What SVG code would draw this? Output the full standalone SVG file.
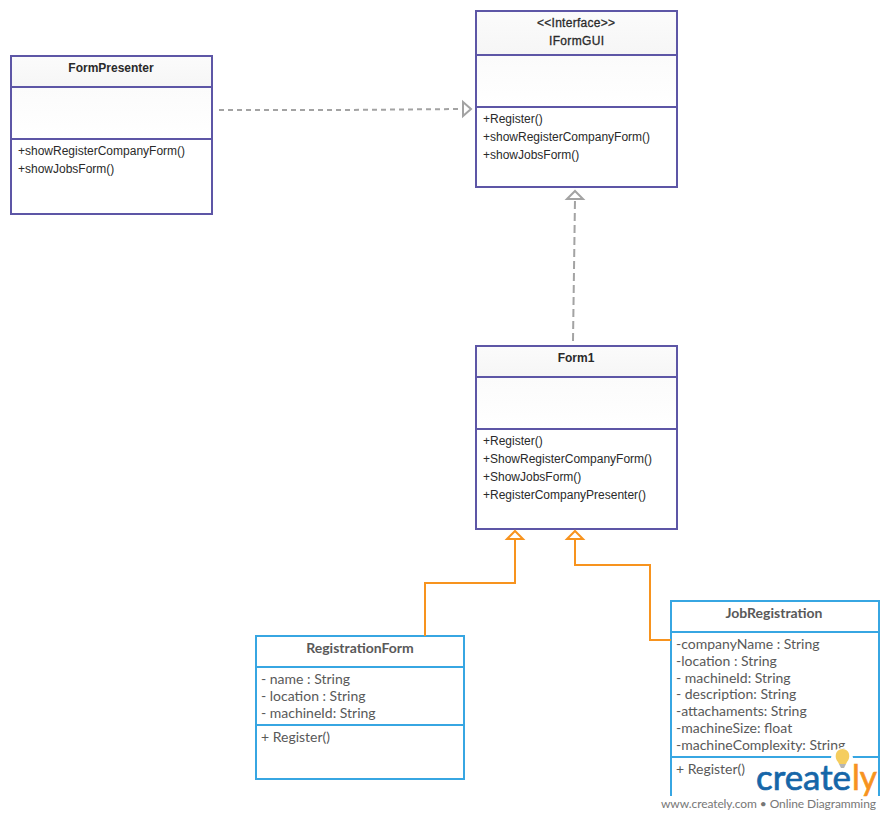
<svg xmlns="http://www.w3.org/2000/svg" width="890" height="820" viewBox="0 0 890 820">
<defs>
<linearGradient id="hdr" x1="0" y1="0" x2="0" y2="1"><stop offset="0" stop-color="#fbfbfb"/><stop offset="1" stop-color="#f6f6f6"/></linearGradient>
<linearGradient id="mid" x1="0" y1="0" x2="0" y2="1"><stop offset="0" stop-color="#fbfbfb"/><stop offset="1" stop-color="#ffffff"/></linearGradient>
</defs>
<style>
.p{fill:#fff;stroke:#5d56a6;stroke-width:2}
.pl{stroke:#5d56a6;stroke-width:2;fill:none}
.b{fill:#fff;stroke:#37a6e2;stroke-width:2}
.bl{stroke:#37a6e2;stroke-width:2;fill:none}
.t{font-family:"Liberation Sans",Arial,sans-serif;font-size:12px;fill:#2a2a2a}
.th{font-family:"Liberation Sans",Arial,sans-serif;font-size:12px;fill:#2a2a2a;font-weight:bold;text-anchor:middle}
.tm{font-family:"Liberation Sans",Arial,sans-serif;font-size:12px;fill:#2a2a2a;stroke:#2a2a2a;stroke-width:.3}
.l{font-family:Lato,sans-serif;font-size:14px;fill:#595959}
.lh{font-family:Lato,sans-serif;font-size:14px;fill:#595959;font-weight:bold;text-anchor:middle}
.d{fill:none;stroke:#a3a3a3;stroke-width:2}
.hg{fill:#fff;stroke:#a3a3a3;stroke-width:2}
.o{fill:none;stroke:#f7931e;stroke-width:2}
.ho{fill:#fff;stroke:#f7931e;stroke-width:2}
</style>
<g id="FormPresenter">
<rect class="p" x="11" y="56" width="201" height="158"/>
<rect x="12" y="57" width="199" height="30" fill="url(#hdr)"/>
<rect x="12" y="88" width="199" height="50" fill="url(#mid)"/>
<path class="pl" d="M11 87H212M11 139H212"/>
<text class="th" x="111" y="72">FormPresenter</text>
<text class="t" x="18" y="155">+showRegisterCompanyForm()</text>
<text class="t" x="18" y="173">+showJobsForm()</text>
</g>
<g id="IFormGUI">
<rect class="p" x="476" y="11" width="201" height="176"/>
<rect x="477" y="12" width="199" height="42" fill="url(#hdr)"/>
<rect x="477" y="56" width="199" height="50" fill="url(#mid)"/>
<path class="pl" d="M476 55H677M476 107H677"/>
<text class="tm" x="537" y="27" textLength="78">&lt;&lt;Interface&gt;&gt;</text>
<text class="tm" x="549" y="45" textLength="55">IFormGUI</text>
<text class="t" x="483" y="123">+Register()</text>
<text class="t" x="483" y="141">+showRegisterCompanyForm()</text>
<text class="t" x="483" y="159">+showJobsForm()</text>
</g>
<g id="Form1">
<rect class="p" x="476" y="346" width="201" height="183"/>
<rect x="477" y="347" width="199" height="30" fill="url(#hdr)"/>
<rect x="477" y="378" width="199" height="50" fill="url(#mid)"/>
<path class="pl" d="M476 377H677M476 429H677"/>
<text class="th" x="576" y="362">Form1</text>
<text class="t" x="483" y="445">+Register()</text>
<text class="t" x="483" y="463">+ShowRegisterCompanyForm()</text>
<text class="t" x="483" y="481">+ShowJobsForm()</text>
<text class="t" x="483" y="499">+RegisterCompanyPresenter()</text>
</g>
<g id="RegistrationForm">
<rect class="b" x="256" y="636" width="208" height="143"/>
<path class="bl" d="M256 667H464M256 725H464"/>
<text class="lh" x="360" y="653">RegistrationForm</text>
<text class="l" x="261" y="684">- name : String</text>
<text class="l" x="261" y="701">- location : String</text>
<text class="l" x="261" y="718">- machineId: String</text>
<text class="l" x="261" y="742">+ Register()</text>
</g>
<g id="JobRegistration">
<path class="b" d="M671 796V601H879V796"/>
<path class="bl" d="M671 632H879M671 757H879"/>
<text class="lh" x="774" y="618">JobRegistration</text>
<text class="l" x="676" y="649">-companyName : String</text>
<text class="l" x="676" y="666">-location : String</text>
<text class="l" x="676" y="683">- machineId: String</text>
<text class="l" x="676" y="699">- description: String</text>
<text class="l" x="676" y="716">-attachaments: String</text>
<text class="l" x="676" y="733">-machineSize: float</text>
<text class="l" x="676" y="750">-machineComplexity: String</text>
<text class="l" x="676" y="774">+ Register()</text>
</g>
<g id="connectors">
<path class="d" stroke-dasharray="5 4" d="M219 110L340 110L463 109"/>
<path class="hg" d="M463 102L471 109L463 116Z"/>
<path class="d" stroke-dasharray="8 4" d="M573 341L575 199"/>
<path class="hg" d="M567 199L575 191L583 199Z"/>
<path class="o" d="M425 636V583H515V539"/>
<path class="ho" d="M507 539L515 531L523 539Z"/>
<path class="o" d="M671 640H650V565H575V539"/>
<path class="ho" d="M567 539L575 531L583 539Z"/>
</g>
<g id="watermark">
<circle cx="842" cy="759" r="11" fill="#fff"/>
<rect x="660" y="796" width="230" height="24" fill="#fff"/>
<path d="M838 762C834 758 835 749 842.500 749C850 749 851 758 847 762L846 764H839Z" fill="#f5cd5e"/>
<path d="M839 764H846L844 768H841Z" fill="#b5b5b5"/>
<text x="756" y="790" font-family="Lato,sans-serif" font-size="35" fill="#1666a8" stroke="#1666a8" stroke-width=".7" textLength="95" lengthAdjust="spacingAndGlyphs">create</text>
<text x="852" y="790" font-family="Lato,sans-serif" font-size="35" fill="#f7931e" stroke="#f7931e" stroke-width=".7" textLength="25" lengthAdjust="spacingAndGlyphs">ly</text>
<text x="661" y="808" font-family="Lato,sans-serif" font-size="12" fill="#777" textLength="215">www.creately.com • Online Diagramming</text>
</g>
</svg>
